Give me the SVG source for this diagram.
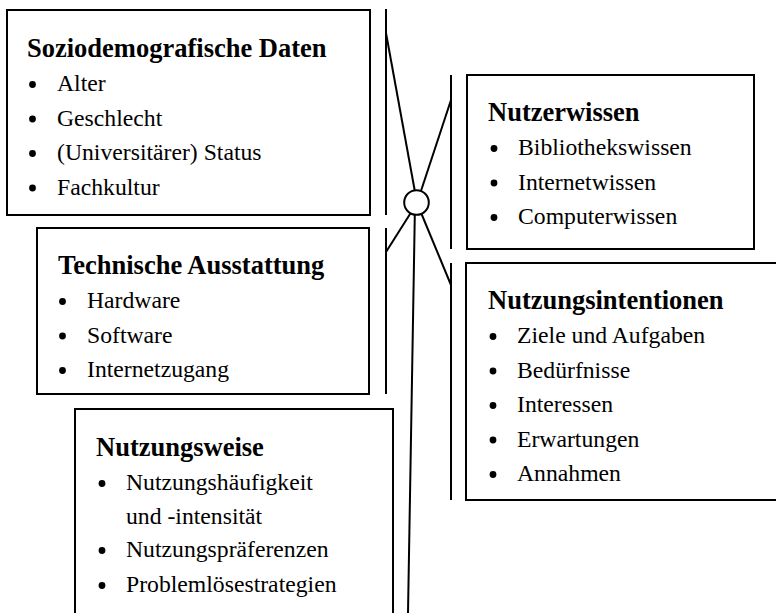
<svg xmlns="http://www.w3.org/2000/svg" width="776" height="613" viewBox="0 0 776 613">
<style>
.box{fill:#fff;stroke:#000;stroke-width:2}
.ln{stroke:#000;stroke-width:2;fill:none}
.t{font-family:"Liberation Serif","Times New Roman",serif;font-size:26.5px;font-weight:bold;fill:#000}
.i{font-family:"Liberation Serif","Times New Roman",serif;font-size:23.7px;fill:#000}
.b{fill:#000}
</style>
<rect width="776" height="613" fill="#fff"/>
<g id="connectors">
<line class="ln" x1="386" y1="9" x2="386" y2="215"/>
<line class="ln" x1="386" y1="228" x2="386" y2="394"/>
<line class="ln" x1="451" y1="75" x2="451" y2="249"/>
<line class="ln" x1="451" y1="263" x2="451" y2="500"/>
<line class="ln" x1="386" y1="33" x2="417" y2="203"/>
<line class="ln" x1="451" y1="100" x2="417" y2="203"/>
<line class="ln" x1="386" y1="252" x2="417" y2="203"/>
<line class="ln" x1="451" y1="285" x2="417" y2="203"/>
<line class="ln" x1="415" y1="203" x2="408" y2="613"/>
<circle cx="416.5" cy="202.5" r="12.3" fill="#fff" stroke="#000" stroke-width="2"/>
</g>
<g id="soziodemografische">
<rect class="box" x="7" y="10" width="363" height="205"/>
<text class="t" x="27" y="57">Soziodemografische Daten</text>
<circle class="b" cx="32.5" cy="84.5" r="3.4"/><text class="i" x="57" y="91">Alter</text>
<circle class="b" cx="32.5" cy="119" r="3.4"/><text class="i" x="57" y="125.5">Geschlecht</text>
<circle class="b" cx="32.5" cy="153.5" r="3.4"/><text class="i" x="57" y="160">(Universitärer) Status</text>
<circle class="b" cx="32.5" cy="188" r="3.4"/><text class="i" x="57" y="194.5">Fachkultur</text>
</g>
<g id="technische">
<rect class="box" x="37" y="228" width="332" height="166"/>
<text class="t" x="58" y="274">Technische Ausstattung</text>
<circle class="b" cx="62.5" cy="301.5" r="3.4"/><text class="i" x="87" y="308">Hardware</text>
<circle class="b" cx="62.5" cy="336" r="3.4"/><text class="i" x="87" y="342.5">Software</text>
<circle class="b" cx="62.5" cy="370.5" r="3.4"/><text class="i" x="87" y="377">Internetzugang</text>
</g>
<g id="nutzungsweise">
<rect class="box" x="75" y="409" width="318" height="220"/>
<text class="t" x="96" y="456">Nutzungsweise</text>
<circle class="b" cx="102" cy="483.5" r="3.4"/><text class="i" x="126" y="490">Nutzungshäufigkeit</text>
<text class="i" x="126" y="523.5">und -intensität</text>
<circle class="b" cx="102" cy="550.5" r="3.4"/><text class="i" x="126" y="557">Nutzungspräferenzen</text>
<circle class="b" cx="102" cy="585.5" r="3.4"/><text class="i" x="126" y="592">Problemlösestrategien</text>
</g>
<g id="nutzerwissen">
<rect class="box" x="467" y="75" width="287" height="174"/>
<text class="t" x="488" y="121">Nutzerwissen</text>
<circle class="b" cx="494" cy="148.5" r="3.4"/><text class="i" x="518" y="155">Bibliothekswissen</text>
<circle class="b" cx="494" cy="183" r="3.4"/><text class="i" x="518" y="189.5">Internetwissen</text>
<circle class="b" cx="494" cy="217.5" r="3.4"/><text class="i" x="518" y="224">Computerwissen</text>
</g>
<g id="nutzungsintentionen">
<rect class="box" x="466" y="263" width="320" height="237"/>
<text class="t" x="488" y="309">Nutzungsintentionen</text>
<circle class="b" cx="493" cy="336.5" r="3.4"/><text class="i" x="517" y="343">Ziele und Aufgaben</text>
<circle class="b" cx="493" cy="371" r="3.4"/><text class="i" x="517" y="377.5">Bedürfnisse</text>
<circle class="b" cx="493" cy="405.5" r="3.4"/><text class="i" x="517" y="412">Interessen</text>
<circle class="b" cx="493" cy="440" r="3.4"/><text class="i" x="517" y="446.5">Erwartungen</text>
<circle class="b" cx="493" cy="474.5" r="3.4"/><text class="i" x="517" y="481">Annahmen</text>
</g>
</svg>
